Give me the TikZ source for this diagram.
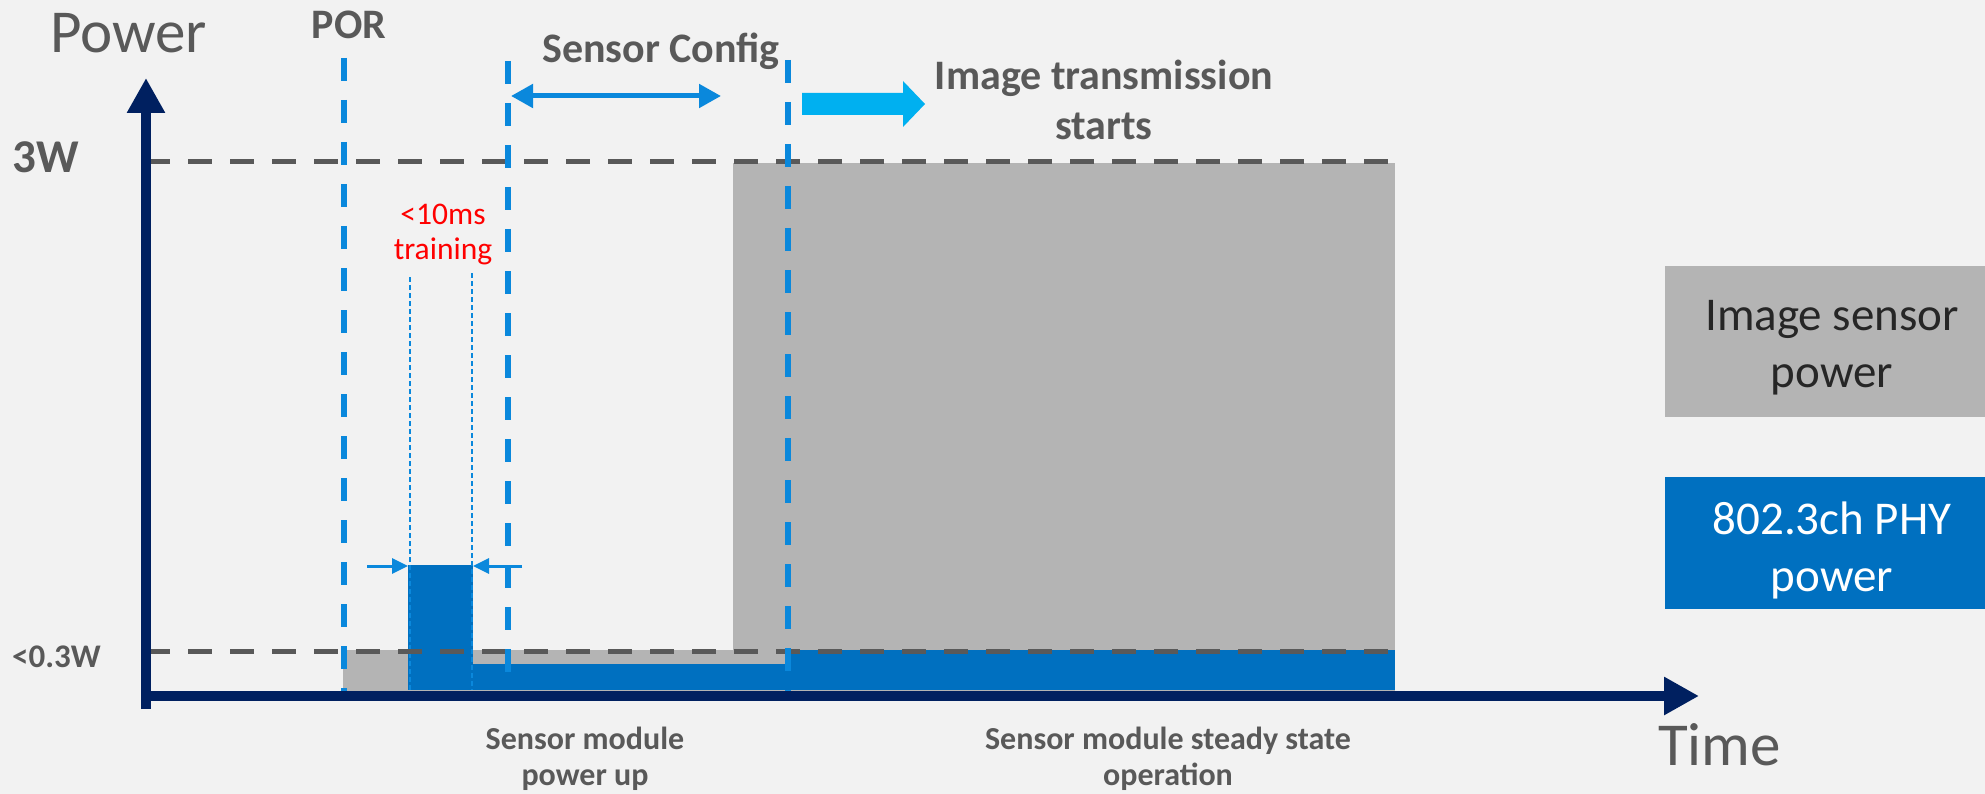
\documentclass[tikz,border=0pt]{standalone}
\usepackage{fontspec}
\setmainfont{Carlito}
\usetikzlibrary{arrows.meta}
\definecolor{bgc}{HTML}{F2F2F2}
\definecolor{navy}{HTML}{002060}
\definecolor{txtgray}{HTML}{595959}
\definecolor{dashgray}{HTML}{595959}
\definecolor{fillgray}{HTML}{B4B4B4}
\definecolor{fillblue}{HTML}{0070C0}
\definecolor{lineblue}{HTML}{0A88DC}
\definecolor{cyanarrow}{HTML}{00B0F0}
\definecolor{legtext}{HTML}{262626}
\begin{document}
\begin{tikzpicture}[x=1pt,y=-1pt,
  axisline/.style={draw=navy, line width=10pt, -{Triangle[length=35pt,width=36pt]}},
  level/.style={draw=dashgray, line width=5pt, dash pattern=on 24pt off 18pt},
  marker/.style={draw=lineblue, line width=5.5pt, dash pattern=on 23pt off 19pt},
  thinmark/.style={draw=lineblue, line width=1.5pt, dash pattern=on 5pt off 3pt},
  tarrow/.style={draw=lineblue, line width=3pt, -{Triangle[length=16pt,width=15pt]}},
  cfgarrow/.style={draw=lineblue, line width=5pt, {Triangle[length=22pt,width=23pt]}-{Triangle[length=22pt,width=23pt]}},
  boldlbl/.style={inner sep=0pt, text=txtgray, font=\bfseries\fontsize{42}{50}\selectfont},
  smalllbl/.style={inner sep=0pt, text=txtgray, align=center, font=\bfseries\fontsize{32}{36}\selectfont},
  axislbl/.style={inner sep=0pt, text=txtgray, font=\fontsize{61}{70}\selectfont},
  legtxt/.style={inner sep=0pt, align=center, font=\fontsize{47}{57}\selectfont}
]
\fill[bgc] (0,0) rectangle (1985,794);
\useasboundingbox (0,0) rectangle (1985,794);

% power fills
\fill[fillgray] (343,650) rectangle (733,695);
\fill[fillgray] (733,163) rectangle (1395,695);
\fill[fillblue] (408,565) rectangle (473,690);
\fill[fillblue] (473,664) rectangle (788,690);
\fill[fillblue] (788,650) rectangle (1395,690);

% training markers
\coordinate (tl0) at (410,277);
\coordinate (tl1) at (410,690);
\coordinate (tr0) at (472,273);
\coordinate (tr1) at (472,690);
\draw[thinmark] (tl0) -- (tl1);
\draw[thinmark] (tr0) -- (tr1);

% level lines
\coordinate (l3a) at (146,162);
\coordinate (l3b) at (1395,162);
\coordinate (l03a) at (146,651);
\coordinate (l03b) at (1395,651);
\draw[level] (l3a) -- (l3b);
\draw[level] (l03a) -- (l03b);

% vertical markers
\coordinate (m1a) at (344,58);
\coordinate (m1b) at (344,695);
\coordinate (m2a) at (508,61);
\coordinate (m2b) at (508,695);
\coordinate (m3a) at (788,60);
\coordinate (m3b) at (788,695);
\draw[marker] (m1a) -- (m1b);
\draw[marker] (m2a) -- (m2b);
\draw[marker] (m3a) -- (m3b);

% axes
\coordinate (yb) at (146,709);
\coordinate (yt) at (146,78);
\coordinate (xl) at (141,696);
\coordinate (xr) at (1699,696);
\draw[axisline] (yb) -- (yt);
\draw[axisline] (xl) -- (xr);

% training arrows
\coordinate (ta) at (367,566);
\coordinate (tb) at (408,566);
\coordinate (tc) at (522,566);
\coordinate (td) at (473,566);
\draw[tarrow] (ta) -- (tb);
\draw[tarrow] (tc) -- (td);

% sensor config arrow
\coordinate (ca) at (511,96);
\coordinate (cb) at (721,96);
\draw[cfgarrow] (ca) -- (cb);

% image transmission block arrow
\fill[cyanarrow] (802,93) -- (903,93) -- (903,81) -- (925,104) -- (903,127) -- (903,115) -- (802,115) -- cycle;

% labels
\node[axislbl, anchor=base west] (power) at (50,53) {Power};
\node[axislbl, anchor=base west] (time) at (1658,765) {Time};
\node[boldlbl, anchor=base] (por) at (349,39) {POR};
\node[boldlbl, anchor=base] (cfg) at (661,63) {Sensor Config};
\node[boldlbl, align=center] (imgtx) at (1104,99.5) {Image transmission\\starts};
\node[inner sep=0pt, text=txtgray, font=\bfseries\fontsize{47}{50}\selectfont, anchor=base west] (w3) at (12,173) {3W};
\node[inner sep=0pt, text=txtgray, font=\bfseries\fontsize{33}{36}\selectfont, anchor=base west] (w03) at (12,667) {<0.3W};
\node[inner sep=0pt, text=red, align=center, font=\fontsize{31.5}{35}\selectfont] (train) at (443,234) {<10ms\\training};
\node[smalllbl] (pu) at (585,758.5) {Sensor module\\power up};
\node[smalllbl] (ss) at (1168,758.5) {Sensor module steady state\\operation};

% legend
\fill[fillgray] (1665,266) rectangle (1999,417);
\fill[fillblue] (1665,477) rectangle (1999,609);
\node[legtxt, text=legtext] (leg1) at (1832,348) {Image sensor\\power};
\node[legtxt, text=white] (leg2) at (1832,550.5) {802.3ch PHY\\power};
\end{tikzpicture}
\end{document}
